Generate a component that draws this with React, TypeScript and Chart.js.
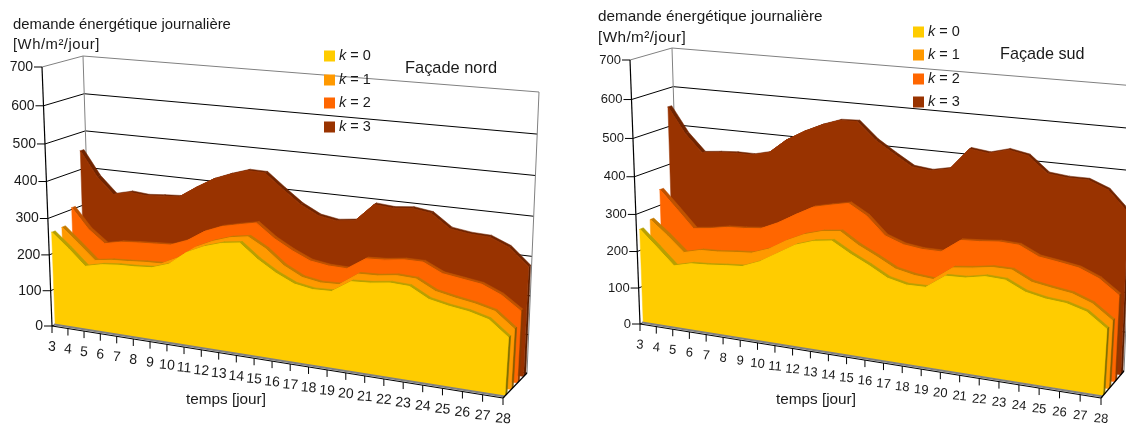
import React, { useEffect, useRef } from "react";
import { Chart, registerables } from "chart.js";

Chart.register(...registerables);

const days = ["3","4","5","6","7","8","9","10","11","12","13","14","15","16","17","18","19","20","21","22","23","24","25","26","27","28"];
const yTicks = [0, 100, 200, 300, 400, 500, 600, 700];
const seriesLabels = ["0", "1", "2", "3"];

const nordK0 = [259,220,177,188,193,195,199,215,252,274,289,296,259,230,208,200,202,234,237,244,242,216,206,199,186,148];
const nordK1 = [262,222,181,188,191,195,197,220,254,276,292,300,274,236,212,204,206,240,242,249,247,222,212,204,192,154];
const nordK2 = [305,251,216,226,230,233,236,254,284,303,314,324,289,263,242,235,234,266,269,276,276,253,246,239,218,184];
const nordK3 = [451,385,341,352,348,352,355,385,412,430,445,444,407,372,348,340,346,393,389,394,387,353,346,344,324,281];

const sudK0 = [257,214,170,182,185,190,194,213,241,269,285,292,265,242,216,205,206,241,243,253,251,228,218,214,200,165];
const sudK1 = [272,235,194,206,208,213,217,234,262,284,298,304,274,251,226,216,212,248,254,262,262,238,230,223,205,170];
const sudK2 = [342,295,247,253,262,265,270,291,318,343,354,364,337,292,275,269,269,304,307,312,310,287,280,272,252,217];
const sudK3 = [552,486,440,445,448,448,459,496,522,543,559,561,519,489,461,456,466,520,514,527,518,479,474,474,455,406];

const fillColors = ["#FFCC00", "#FF9900", "#FF6600", "#993300"];
const topColors = ["#B8A000", "#C47A00", "#BF5200", "#702400"];
const sideColors = ["#807000", "#8A5C00", "#8A3A00", "#5C1F00"];
const slabDepth = [[0.08, 0.17], [0.34, 0.43], [0.6, 0.69], [0.86, 0.95]];

type Pt = [number, number];
interface Panel {
  offset: number;
  A: Pt; B: Pt; C: Pt; D: Pt; E: Pt; F: Pt; G: Pt; H: Pt;
  titleLines: string[]; titleX: number; titleY: number[]; titleFont: number; titleSpacing: string[];
  tickFont: number; nameFont: number;
  name: string; nameX: number; nameY: number;
  xTitle: string; xTitleX: number; xTitleY: number;
  legendX: number; legendY: number[];
  series: number[][];
}

const panels: Panel[] = [
  {
    offset: 0,
    A: [52, 326], B: [503, 398], C: [527, 373], D: [91, 308],
    E: [42, 67], F: [522, 110], G: [539, 92], H: [83, 56],
    titleLines: ["demande énergétique journalière", "[Wh/m²/jour]"], titleX: 13, titleY: [25, 45], titleFont: 14.85, titleSpacing: ["0px", "0.5px"],
    tickFont: 14, nameFont: 16.4,
    name: "Façade nord", nameX: 405, nameY: 68,
    xTitle: "temps [jour]", xTitleX: 226, xTitleY: 400,
    legendX: 324, legendY: [56, 80, 103, 127],
    series: [nordK0, nordK1, nordK2, nordK3],
  },
  {
    offset: 563,
    A: [640, 324], B: [1101, 398], C: [1124, 371], D: [680, 306],
    E: [630, 60], F: [1120, 103], G: [1136, 86], H: [672, 48],
    titleLines: ["demande énergétique journalière", "[Wh/m²/jour]"], titleX: 598, titleY: [17, 38], titleFont: 15.3, titleSpacing: ["0px", "0.4px"],
    tickFont: 13, nameFont: 16.2,
    name: "Façade sud", nameX: 1000, nameY: 55,
    xTitle: "temps [jour]", xTitleX: 816, xTitleY: 400,
    legendX: 913, legendY: [32, 55, 79, 102],
    series: [sudK0, sudK1, sudK2, sudK3],
  },
];

const FONT = '"Liberation Sans", Arial, sans-serif';
const RU = 1.137;
const RV = 1.057;

function makeProject(p: Panel) {
  const o = p.offset;
  const mix = (a: Pt, b: Pt, t: number): Pt => [a[0] + (b[0] - a[0]) * t, a[1] + (b[1] - a[1]) * t];
  return (u: number, v: number, w: number): Pt => {
    const us = u / (u + (1 - u) * RU || 1);
    const vs = v / (v + (1 - v) * RV || 1);
    const bottomFront = mix(p.A, p.B, us);
    const bottomBack = mix(p.D, p.C, us);
    const topFront = mix(p.E, p.F, us);
    const topBack = mix(p.H, p.G, us);
    const front = mix(bottomFront, topFront, vs);
    const back = mix(bottomBack, topBack, vs);
    const r = mix(front, back, w);
    return [r[0] - o, r[1]];
  };
}

function panelPlugin(p: Panel) {
  const project = makeProject(p);
  const store: { u: number; v: number }[][] = [];
  const ox = p.offset;
  const line = (ctx: CanvasRenderingContext2D, a: Pt, b: Pt, color: string, width: number) => {
    ctx.strokeStyle = color;
    ctx.lineWidth = width;
    ctx.beginPath();
    ctx.moveTo(a[0], a[1]);
    ctx.lineTo(b[0], b[1]);
    ctx.stroke();
  };
  const poly = (ctx: CanvasRenderingContext2D, pts: Pt[], color: string) => {
    ctx.fillStyle = color;
    ctx.strokeStyle = color;
    ctx.lineWidth = 0.5;
    ctx.beginPath();
    pts.forEach((q, i) => (i ? ctx.lineTo(q[0], q[1]) : ctx.moveTo(q[0], q[1])));
    ctx.closePath();
    ctx.fill();
    ctx.stroke();
  };
  return {
    id: "perspective" + p.offset,
    afterDatasetsUpdate(chart: any) {
      const area = chart.chartArea;
      chart.data.datasets.forEach((_: any, k: number) => {
        const meta = chart.getDatasetMeta(k);
        const [wf] = slabDepth[k];
        store[k] = meta.data.map((pt: any) => {
          const u = (pt.x - area.left) / (area.right - area.left);
          const v = (area.bottom - pt.y) / (area.bottom - area.top);
          const s = project(u, v, wf);
          pt.x = s[0];
          pt.y = s[1];
          return { u, v };
        });
      });
    },
    beforeDatasetsDraw(chart: any) {
      const ctx: CanvasRenderingContext2D = chart.ctx;
      const yScale = chart.scales.y;
      const area = chart.chartArea;
      ctx.save();
      yTicks.forEach((t) => {
        const v = (area.bottom - yScale.getPixelForValue(t)) / (area.bottom - area.top);
        const col = t === 700 ? "#808080" : "#000000";
        line(ctx, project(0, v, 0), project(0, v, 1), col, 1);
        line(ctx, project(0, v, 1), project(1, v, 1), col, 1);
      });
      line(ctx, project(0, 0, 1), project(0, 1, 1), "#808080", 1);
      line(ctx, project(1, 0, 1), project(1, 1, 1), "#808080", 1);
      ctx.restore();
    },
    beforeDatasetDraw(chart: any, args: any) {
      const k = args.index;
      const ctx: CanvasRenderingContext2D = chart.ctx;
      const pts = store[k];
      if (!pts) return;
      const [wf, wb] = slabDepth[k];
      ctx.save();
      for (let i = 0; i < pts.length - 1; i++) {
        const a = pts[i];
        const b = pts[i + 1];
        poly(ctx, [project(a.u, a.v, wf), project(b.u, b.v, wf), project(b.u, b.v, wb), project(a.u, a.v, wb)], topColors[k]);
      }
      const last = pts[pts.length - 1];
      poly(ctx, [project(last.u, 0, wf), project(last.u, last.v, wf), project(last.u, last.v, wb), project(last.u, 0, wb)], sideColors[k]);
      const front: Pt[] = pts.map((q) => project(q.u, q.v, wf));
      front.push(project(last.u, 0, wf));
      front.push(project(pts[0].u, 0, wf));
      poly(ctx, front, fillColors[k]);
      ctx.restore();
    },
    afterDraw(chart: any) {
      const ctx: any = chart.ctx;
      const xScale = chart.scales.x;
      const yScale = chart.scales.y;
      const area = chart.chartArea;
      ctx.save();
      const a0 = project(0, 0, 0);
      const b0 = project(1, 0, 0);
      line(ctx, [a0[0] + 2, a0[1] - 1.5], [b0[0] + 2, b0[1] - 1.5], "#808080", 2);
      line(ctx, a0, b0, "#000000", 1.2);
      line(ctx, b0, project(1, 0, 1), "#000000", 1.2);
      line(ctx, a0, project(0, 1, 0), "#000000", 1.2);
      ctx.fillStyle = "#1a1a1a";
      ctx.font = `${p.tickFont}px ${FONT}`;
      ctx.textAlign = "right";
      ctx.textBaseline = "middle";
      yTicks.forEach((t) => {
        const v = (area.bottom - yScale.getPixelForValue(t)) / (area.bottom - area.top);
        const s = project(0, v, 0);
        line(ctx, [s[0] - 8, s[1]], s, "#000000", 1);
        ctx.fillText(String(t), s[0] - 9, s[1]);
      });
      ctx.textAlign = "center";
      days.forEach((d, i) => {
        const u = (xScale.getPixelForValue(i) - area.left) / (area.right - area.left);
        const s = project(u, 0, 0);
        line(ctx, s, [s[0], s[1] + 7], "#000000", 1);
        ctx.save();
        ctx.translate(s[0], s[1] + 21);
        ctx.rotate(0.08);
        ctx.fillText(d, 0, 0);
        ctx.restore();
      });
      ctx.textAlign = "left";
      ctx.font = `${p.titleFont}px ${FONT}`;
      p.titleLines.forEach((tl, i) => {
        ctx.letterSpacing = p.titleSpacing[i];
        ctx.fillText(tl, p.titleX - ox, p.titleY[i]);
      });
      ctx.letterSpacing = "0px";
      ctx.font = `${p.nameFont}px ${FONT}`;
      ctx.fillText(p.name, p.nameX - ox, p.nameY);
      ctx.font = `15.3px ${FONT}`;
      ctx.textAlign = "center";
      ctx.fillText(p.xTitle, p.xTitleX - ox, p.xTitleY);
      ctx.textAlign = "left";
      seriesLabels.forEach((lab, k) => {
        const y = p.legendY[k];
        ctx.fillStyle = fillColors[k];
        ctx.fillRect(p.legendX - ox, y - 5.5, 11, 11);
        ctx.fillStyle = "#1a1a1a";
        ctx.font = `italic 14.5px ${FONT}`;
        ctx.fillText("k", p.legendX + 15 - ox, y);
        const kw = ctx.measureText("k").width;
        ctx.font = `14.5px ${FONT}`;
        ctx.fillText(" = " + lab, p.legendX + 15 - ox + kw, y);
      });
      ctx.restore();
    },
  };
}

function PanelChart({ panel }: { panel: Panel }) {
  const ref = useRef<HTMLCanvasElement | null>(null);
  useEffect(() => {
    const chart = new Chart(ref.current as HTMLCanvasElement, {
      type: "line",
      data: {
        labels: days,
        datasets: panel.series.map((s, k) => ({
          label: "k = " + seriesLabels[k],
          data: s,
          borderColor: fillColors[k],
          backgroundColor: fillColors[k],
          borderWidth: 1,
          pointRadius: 0,
          tension: 0,
          fill: false,
        })),
      },
      options: {
        responsive: false,
        animation: false,
        layout: { padding: 0 },
        scales: {
          x: { display: false },
          y: { display: false, min: 0, max: 700 },
        },
        plugins: { legend: { display: false }, tooltip: { enabled: false } },
      },
      plugins: [panelPlugin(panel)],
    } as any);
    return () => chart.destroy();
  }, [panel]);
  return (
    <canvas
      ref={ref}
      width={563}
      height={424}
      style={{ position: "absolute", left: panel.offset, top: 0, width: 563, height: 424, display: "block" }}
    />
  );
}

export default function App() {
  return (
    <div style={{ position: "absolute", left: 0, top: 0, width: 1126, height: 424, overflow: "hidden", background: "#fff" }}>
      {panels.map((p) => (
        <PanelChart key={p.offset} panel={p} />
      ))}
    </div>
  );
}
